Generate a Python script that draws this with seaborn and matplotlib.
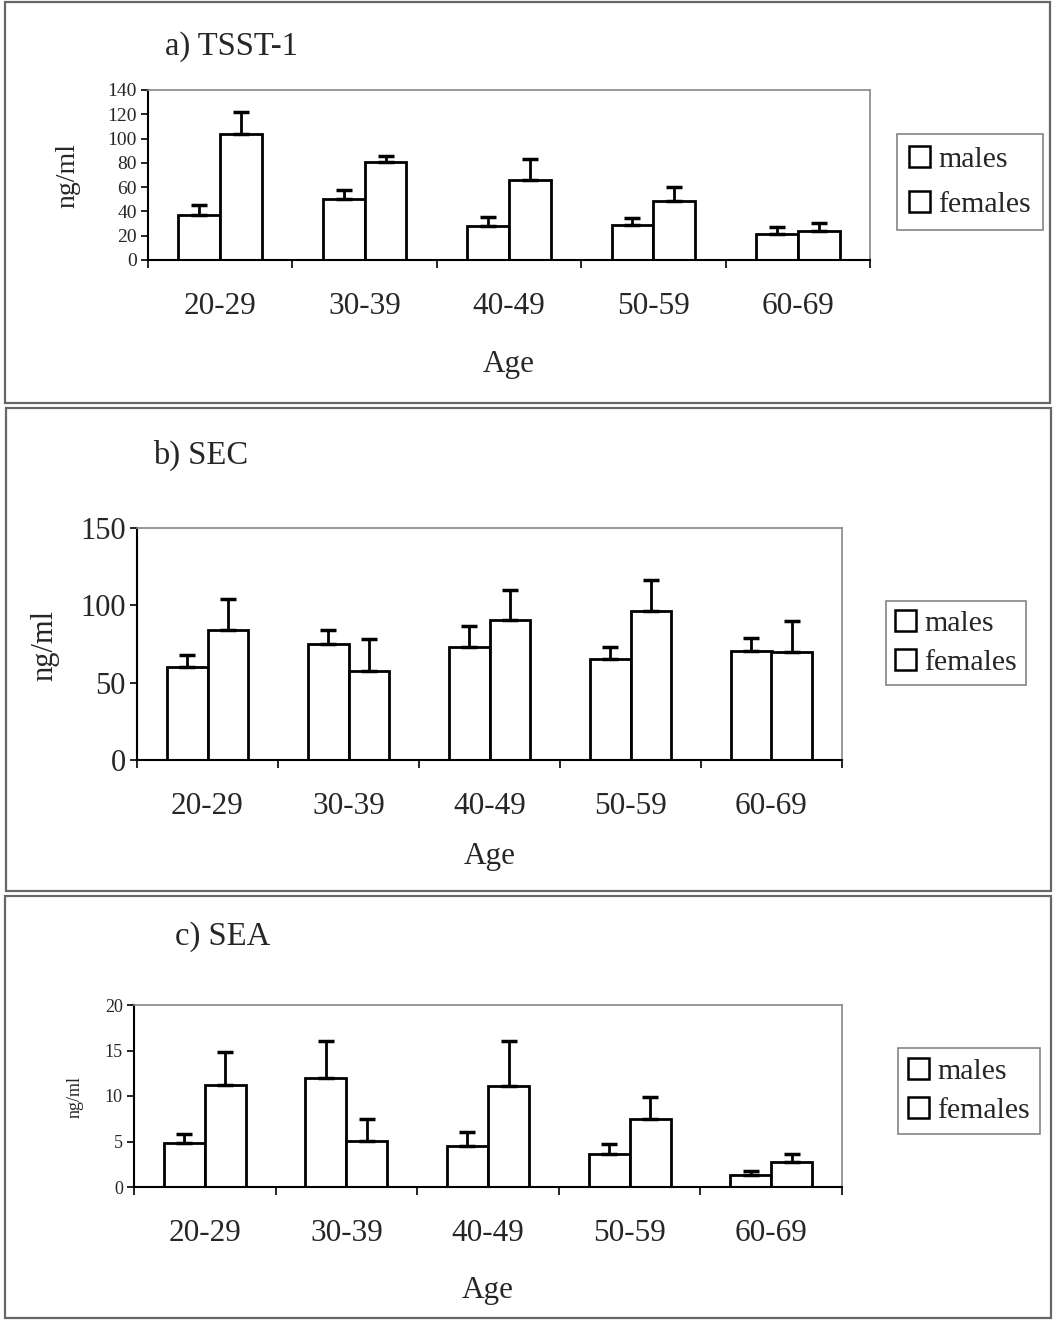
import numpy as np
import pandas as pd
import seaborn as sns
import matplotlib.pyplot as plt
from matplotlib.patches import Patch, Rectangle

# Age groups shared by all three toxins
age_groups = ["20-29", "30-39", "40-49", "50-59", "60-69"]
sexes = ["males", "females"]

# a) TSST-1 antibody levels (ng/ml): means and standard errors
tsst_males = [36.9, 49.9, 28.3, 29.1, 21.3]
tsst_males_se = [8.6, 8.0, 7.2, 5.9, 6.1]
tsst_females = [104.0, 81.0, 66.0, 48.2, 23.6]
tsst_females_se = [18.0, 4.4, 16.9, 12.2, 6.6]

# b) SEC
sec_males = [60.3, 75.0, 73.1, 65.1, 70.5]
sec_males_se = [7.8, 9.3, 13.8, 8.2, 8.4]
sec_females = [84.3, 57.8, 90.7, 96.6, 69.8]
sec_females_se = [19.6, 20.4, 19.4, 19.8, 20.3]

# c) SEA
sea_males = [4.8, 12.0, 4.54, 3.58, 1.29]
sea_males_se = [1.0, 4.0, 1.46, 1.14, 0.44]
sea_females = [11.2, 5.06, 11.07, 7.42, 2.73]
sea_females_se = [3.6, 2.44, 4.98, 2.43, 0.92]

panel_titles = ["a) TSST-1", "b) SEC", "c) SEA"]
y_limits = [(0, 140), (0, 150), (0, 20)]
y_ticks = [np.arange(0, 141, 20), np.arange(0, 151, 50), np.arange(0, 21, 5)]

sns.set_theme(style="white")
plt.rcParams["font.family"] = ["Liberation Serif", "DejaVu Serif"]

W, H = 1053, 1321
fig = plt.figure(figsize=(W / 100, H / 100), dpi=100)


def fx(px):
    return px / W


def fy(py):
    return 1 - py / H


# pixel layout of each panel
layouts = [
    dict(box=(5, 2, 1050, 403), ax=(148, 90, 870, 260), title=(165, 47),
         ylab=(68, 175), legend=(970, 182), ytick_fs=14, ylab_fs=20, pad_age=21,
         leg_space=0.62, leg_pad=0.38),
    dict(box=(6, 408, 1051, 891), ax=(137, 528, 842, 760), title=(153, 455),
         ylab=(45, 645), legend=(956, 643), ytick_fs=22, ylab_fs=22, pad_age=15,
         leg_space=0.38, leg_pad=0.3),
    dict(box=(5, 896, 1051, 1318), ax=(134, 1005, 842, 1187), title=(175, 937),
         ylab=(75, 1097), legend=(969, 1091), ytick_fs=13, ylab_fs=13, pad_age=20,
         leg_space=0.42, leg_pad=0.32),
]

datasets = [
    (tsst_males, tsst_males_se, tsst_females, tsst_females_se),
    (sec_males, sec_males_se, sec_females, sec_females_se),
    (sea_males, sea_males_se, sea_females, sea_females_se),
]

for i, (lay, data) in enumerate(zip(layouts, datasets)):
    m, m_se, f, f_se = data
    # outer frame around the panel
    x0, y0, x1, y1 = lay["box"]
    fig.patches.append(Rectangle((fx(x0), fy(y1)), fx(x1) - fx(x0), fy(y0) - fy(y1),
                                 transform=fig.transFigure, fill=False,
                                 edgecolor="#666666", linewidth=1.6, zorder=0))

    ax0, ay0, ax1, ay1 = lay["ax"]
    ax = fig.add_axes([fx(ax0), fy(ay1), fx(ax1) - fx(ax0), fy(ay0) - fy(ay1)])

    df = pd.DataFrame({
        "age": age_groups * 2,
        "sex": ["males"] * 5 + ["females"] * 5,
        "value": list(m) + list(f),
    })
    sns.barplot(data=df, x="age", y="value", hue="sex", order=age_groups,
                hue_order=sexes, palette=["white", "white"], edgecolor="black",
                linewidth=2, width=0.58, gap=0, errorbar=None, legend=False, ax=ax)

    # upper-only error bars on each bar
    for cont, se in zip(ax.containers, [m_se, f_se]):
        xs = [p.get_x() + p.get_width() / 2 for p in cont.patches]
        hs = [p.get_height() for p in cont.patches]
        ax.errorbar(xs, hs, yerr=[np.zeros(len(se)), se], fmt="none",
                    ecolor="black", elinewidth=2, capsize=6, capthick=2.5, zorder=1)

    ax.set_ylim(*y_limits[i])
    ax.set_yticks(y_ticks[i])
    ax.set_xlim(-0.5, 4.5)
    ax.set_xticks(np.arange(-0.5, 5, 1))
    ax.set_xticklabels([])
    ax.set_xticks(np.arange(5), minor=True)
    ax.set_xticklabels(age_groups, minor=True, fontsize=22.5)
    ax.tick_params(axis="x", which="major", direction="out", length=6, width=1.2,
                   color="black", bottom=True)
    ax.tick_params(axis="x", which="minor", length=0, pad=23)
    ax.tick_params(axis="y", direction="out", length=5, width=1.2, color="black",
                   left=True, labelsize=lay["ytick_fs"], pad=3)
    for s in ["left", "bottom"]:
        ax.spines[s].set_color("black")
        ax.spines[s].set_linewidth(1.5)
    for s in ["top", "right"]:
        ax.spines[s].set_color("#888888")
        ax.spines[s].set_linewidth(1.2)

    ax.set_xlabel("Age", fontsize=22.5, labelpad=lay["pad_age"])
    ax.set_ylabel("")
    fig.text(fx(lay["ylab"][0]), fy(lay["ylab"][1]), "ng/ml", rotation=90,
             ha="center", va="center", fontsize=lay["ylab_fs"])
    fig.text(fx(lay["title"][0]), fy(lay["title"][1]), panel_titles[i],
             ha="left", va="center", fontsize=23.5)

    handles = [Patch(facecolor="white", edgecolor="black", linewidth=1.8, label=s)
               for s in sexes]
    leg = ax.legend(handles=handles, loc="center",
                    bbox_to_anchor=(fx(lay["legend"][0]), fy(lay["legend"][1])),
                    bbox_transform=fig.transFigure, fontsize=21.5, frameon=True,
                    fancybox=False, edgecolor="#666666", handlelength=0.7,
                    handleheight=0.7, handletextpad=0.3,
                    labelspacing=lay["leg_space"], borderpad=lay["leg_pad"],
                    borderaxespad=0)
    leg.get_frame().set_linewidth(1.2)

fig.savefig("out.png", dpi=100, facecolor="white")
